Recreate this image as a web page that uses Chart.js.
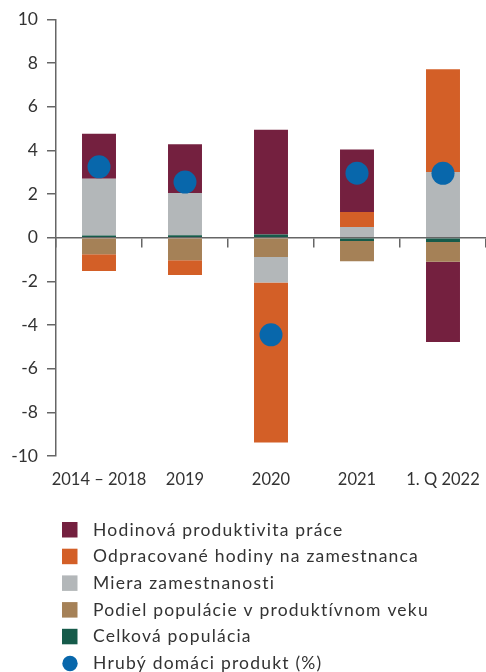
<!DOCTYPE html>
<html>
<head>
<meta charset="utf-8">
<script src="https://cdn.jsdelivr.net/npm/chart.js@4"></script>
<style>
  html, body { margin: 0; padding: 0; background: #fff; }
  #chart { display: block; }
</style>
</head>
<body>
<canvas id="chart" width="486" height="672"></canvas>
<script>
/*===== DATA =====*/

const categories = ["2014 – 2018", "2019", "2020", "2021", "1. Q 2022"];

// stacking order from zero outwards
const celkovaPopulacia = [0.1, 0.12, 0.15, -0.15, -0.2];
const podielPopulacie = [-0.76, -1.03, -0.88, -0.93, -0.9];
const mieraZamestnanosti = [2.6, 1.93, -1.17, 0.49, 3.01];
const odpracovaneHodiny = [-0.76, -0.68, -7.33, 0.69, 4.71];
const hodinovaProduktivita = [2.07, 2.23, 4.8, 2.86, -3.68];
const hdp = [3.25, 2.55, -4.45, 2.96, 2.95];

const yTicks = [-10, -8, -6, -4, -2, 0, 2, 4, 6, 8, 10];

/*===== CHART =====*/

const textColor = "#333333";
const axisColor = "#666666";
const fontFamily = "Lato, 'Noto Sans', sans-serif";

function barSet(label, data, color) {
    return {
        type: "bar",
        label: label,
        data: data,
        backgroundColor: color,
        borderWidth: 0,
        barPercentage: 0.395,
        categoryPercentage: 1
    };
}

const datasets = [
    barSet("Celková populácia", celkovaPopulacia, "#165b4a"),
    barSet("Podiel populácie v produktívnom veku", podielPopulacie, "#a58157"),
    barSet("Miera zamestnanosti", mieraZamestnanosti, "#b3b7b9"),
    barSet("Odpracované hodiny na zamestnanca", odpracovaneHodiny, "#d35f27"),
    barSet("Hodinová produktivita práce", hodinovaProduktivita, "#74203f"),
    {
        type: "line",
        label: "Hrubý domáci produkt (%)",
        data: hdp,
        stack: "gdp",
        order: -1,
        showLine: false,
        pointRadius: 11.5,
        pointBackgroundColor: "#0867ab",
        pointBorderWidth: 0,
        backgroundColor: "#0867ab"
    }
];

// legend drawn by hand: left aligned, rows like the original
const legendPlugin = {
    id: "sideLegend",
    afterDraw(chart) {
        const ctx = chart.ctx;
        const ds = chart.data.datasets;
        const order = [4, 3, 2, 1, 0, 5];
        ctx.save();
        ctx.font = "17.5px " + fontFamily;
        ctx.letterSpacing = "1.2px";
        ctx.textBaseline = "middle";
        ctx.textAlign = "left";
        order.forEach((idx, row) => {
            const y = 530 + row * 26.7;
            ctx.fillStyle = ds[idx].backgroundColor;
            if (ds[idx].type === "line") {
                ctx.beginPath();
                ctx.arc(70, y, 7.7, 0, Math.PI * 2);
                ctx.fill();
            } else {
                ctx.fillRect(62, y - 8, 15.5, 15.5);
            }
            ctx.fillStyle = textColor;
            ctx.fillText(ds[idx].label, 93, y);
        });
        ctx.restore();
    }
};

new Chart("chart", {
    data: {
        labels: categories,
        datasets: datasets
    },
    options: {
        responsive: false,
        animation: false,
        events: [],
        layout: {
            autoPadding: false,
            padding: { top: 17, right: 0, bottom: 176, left: 0 }
        },
        plugins: {
            legend: { display: false },
            tooltip: { enabled: false }
        },
        scales: {
            x: {
                type: "category",
                stacked: true,
                offset: true,
                position: { y: 0 },
                border: { display: true, color: axisColor, width: 1.5 },
                grid: {
                    offset: true,
                    drawOnChartArea: false,
                    drawTicks: true,
                    tickLength: 9,
                    color: axisColor,
                    lineWidth: 1.5
                },
                ticks: { display: false }
            },
            x2: {
                type: "category",
                position: "bottom",
                offset: true,
                border: { display: false },
                grid: { display: false, offset: true },
                ticks: {
                    color: textColor,
                    padding: 6,
                    maxRotation: 0,
                    autoSkip: false,
                    font: { family: fontFamily, size: 16.5 }
                },
                afterFit: s => { s.height = 40; s.paddingLeft = 0; s.paddingRight = 0; }
            },
            y: {
                stacked: true,
                min: -10,
                max: 10,
                afterBuildTicks: s => { s.ticks = yTicks.map(v => ({ value: v })); },
                border: { display: true, color: axisColor, width: 1.5 },
                grid: {
                    drawOnChartArea: false,
                    drawTicks: true,
                    tickLength: 9,
                    color: axisColor,
                    lineWidth: 1.5
                },
                ticks: {
                    color: textColor,
                    padding: 9,
                    font: { family: fontFamily, size: 17.5 }
                },
                afterFit: s => { s.width = 56; }
            }
        }
    },
    plugins: [legendPlugin]
});
</script>
</body>
</html>
